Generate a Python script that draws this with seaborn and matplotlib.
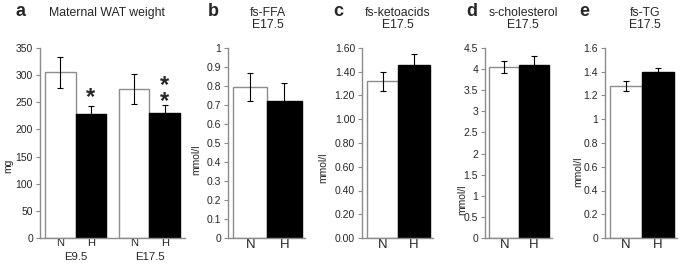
import numpy as np
import pandas as pd
import seaborn as sns
import matplotlib.pyplot as plt

# panel a: maternal WAT weight (mg)
wat_stage = ["E9.5", "E9.5", "E17.5", "E17.5"]
wat_group = ["N", "H", "N", "H"]
wat_mean = [305, 228, 274, 230]
wat_err = [28, 15, 28, 15]

# panels b-e: E17.5, N vs H
groups = ["N", "H"]
ffa_mean = [0.795, 0.72]
ffa_err = [0.075, 0.095]
keto_mean = [1.32, 1.46]
keto_err = [0.08, 0.09]
chol_mean = [4.05, 4.10]
chol_err = [0.14, 0.22]
tg_mean = [1.28, 1.40]
tg_err = [0.045, 0.03]

sns.set_style("white")
plt.rcParams["font.family"] = ["Liberation Sans", "DejaVu Sans"]

W, H = 685, 266
fig = plt.figure(figsize=(6.85, 2.66), dpi=100)
gray = "#8c8c8c"
pal = {"N": "white", "H": "black"}


def px_axes(l, r, b=238, t=48):
    return fig.add_axes([l / W, (H - b) / H, (r - l) / W, (b - t) / H])


def style(ax, ymax, step, fmt, xsize, xpad):
    ticks = np.arange(0, ymax + step / 2, step)
    ax.set_ylim(0, ymax)
    ax.set_yticks(ticks)
    ax.set_yticklabels([fmt.format(v) for v in ticks], fontsize=7.5)
    for s in ["top", "right"]:
        ax.spines[s].set_visible(False)
    for s in ["left", "bottom"]:
        ax.spines[s].set_color(gray)
        ax.spines[s].set_linewidth(1.0)
    ax.tick_params(axis="y", direction="out", length=3, width=0.8, color=gray, pad=2, left=True)
    ax.tick_params(axis="x", length=0, labelsize=xsize, pad=xpad)
    ax.set_xlabel("")
    ax.set_ylabel("")
    for p in ax.patches:
        if p.get_facecolor()[0] > 0.5:
            p.set_edgecolor(gray)
        else:
            p.set_edgecolor("black")
        p.set_linewidth(1.0)


def header(letter, lx, lines, tx):
    fig.text(lx / W, 1 - 11.5 / H, letter, fontsize=13, fontweight="bold", ha="center", va="center")
    for i, line in enumerate(lines):
        fig.text(tx / W, 1 - (13 + 12 * i) / H, line, fontsize=8.8, ha="center", va="center")


# ---- panel a
ax = px_axes(40, 185)
df_a = pd.DataFrame({"stage": wat_stage, "group": wat_group, "mean": wat_mean})
sns.barplot(data=df_a, x="stage", y="mean", hue="group", palette=pal, width=0.82,
            legend=False, ax=ax, errorbar=None)
style(ax, 350, 50, "{:.0f}", 8, 0)
xs = [-0.205, 0.205, 0.795, 1.205]
ax.errorbar(xs, wat_mean, yerr=wat_err, fmt="none", ecolor="black", elinewidth=0.8, capsize=2, capthick=0.8)
ax.set_xlim(-0.48, 1.48)
ax.set_xticks(xs)
ax.set_xticklabels(wat_group)
for cx, lab in [(0, "E9.5"), (1, "E17.5")]:
    ax.text(cx, -0.1, lab, transform=ax.get_xaxis_transform(), ha="center", va="center", fontsize=8.2)
ax.text(0.205, 258, "*", ha="center", va="center", fontsize=17, fontweight="bold")
ax.text(1.205, 266, "*\n*", ha="center", va="center", fontsize=17, fontweight="bold", linespacing=0.62)
ax.text(-0.22, 0.38, "mg", transform=ax.transAxes, rotation=90, ha="center", va="center", fontsize=7.5)
header("a", 21, ["Maternal WAT weight"], 107)


def small_panel(l, r, mean, err, ymax, step, fmt, lab_xy):
    ax = px_axes(l, r)
    df = pd.DataFrame({"group": groups, "mean": mean})
    sns.barplot(data=df, x="group", y="mean", hue="group", palette=pal, width=1.0,
                legend=False, ax=ax, errorbar=None)
    style(ax, ymax, step, fmt, 9.5, 1)
    ax.errorbar([0, 1], mean, yerr=err, fmt="none", ecolor="black", elinewidth=0.8, capsize=2, capthick=0.8)
    ax.set_xlim(-0.65, 1.6)
    ax.text(lab_xy[0], lab_xy[1], "mmol/l", transform=ax.transAxes, rotation=90, ha="center", va="center", fontsize=7.5)
    return ax


small_panel(228, 305, ffa_mean, ffa_err, 1.0, 0.1, "{:g}", (-0.41, 0.41))
header("b", 213, ["fs-FFA", "E17.5"], 268)
small_panel(362, 433, keto_mean, keto_err, 1.6, 0.2, "{:.2f}", (-0.55, 0.37))
header("c", 338, ["fs-ketoacids", "E17.5"], 398)
small_panel(485, 552, chol_mean, chol_err, 4.5, 0.5, "{:g}", (-0.34, 0.2))
header("d", 472, ["s-cholesterol", "E17.5"], 523)
small_panel(605, 677, tg_mean, tg_err, 1.6, 0.2, "{:g}", (-0.37, 0.35))
header("e", 584, ["fs-TG", "E17.5"], 645)

fig.savefig("out.png", dpi=100)
